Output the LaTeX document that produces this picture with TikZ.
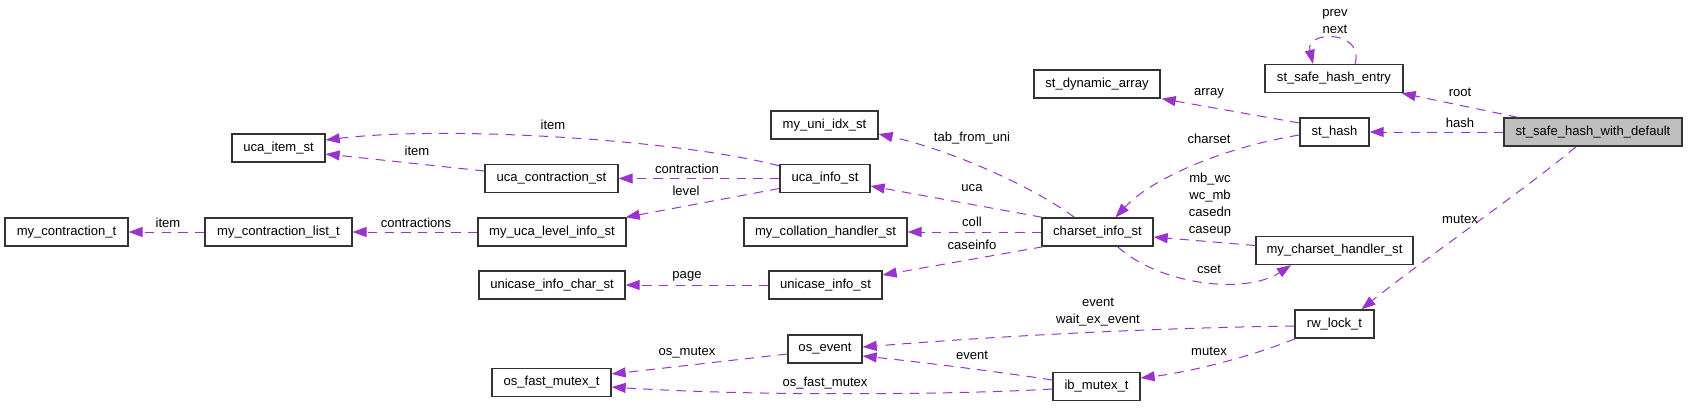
\documentclass[tikz,border=0pt]{standalone}
\usepackage{fontspec}
\setmainfont{Liberation Sans}
\usetikzlibrary{arrows.meta,calc}
\definecolor{edgec}{HTML}{9A32CD}
\definecolor{rootfill}{HTML}{BFBFBF}
\tikzset{
  cls/.style={draw=black!80, line width=1pt, rectangle, inner sep=0pt,
    minimum height=21pt, font=\fontsize{9.8pt}{12pt}\selectfont},
  uses/.style={draw=edgec, line width=0.75pt, dash pattern=on 7pt off 5.5pt,
    -{Triangle[length=10.5pt,width=7.5pt]}},
  lbl/.style={font=\fontsize{9.8pt}{12.75pt}\selectfont, align=center, inner sep=0pt},
}
\begin{document}
\begin{tikzpicture}[x=0.75pt,y=-0.75pt]
\fill[white] (0,0) rectangle (1688,407);
\useasboundingbox (0,0) rectangle (1688,407);
% classes
\node[cls, minimum width=92.25pt]  (mct)   at (66.5,232)   {my\_contraction\_t};
\node[cls, minimum width=110.25pt] (mclt)  at (278.5,232)  {my\_contraction\_list\_t};
\node[cls, minimum width=69.75pt]  (uis)   at (278.5,148)  {uca\_item\_st};
\node[cls, minimum width=99.75pt]  (ucs)   at (551.5,178.5){uca\_contraction\_st};
\node[cls, minimum width=111pt]    (mulis) at (552,232)    {my\_uca\_level\_info\_st};
\node[cls, minimum width=109.5pt]  (uics)  at (552,285)    {unicase\_info\_char\_st};
\node[cls, minimum width=89.25pt]  (ofmt)  at (551.5,382.5){os\_fast\_mutex\_t};
\node[cls, minimum width=80.25pt]  (muis)  at (824.5,125)  {my\_uni\_idx\_st};
\node[cls, minimum width=67.5pt]   (uinfo) at (825,178.5)  {uca\_info\_st};
\node[cls, minimum width=122.25pt] (mchs)  at (825.5,232)  {my\_collation\_handler\_st};
\node[cls, minimum width=84.75pt]  (unis)  at (825.5,285)  {unicase\_info\_st};
\node[cls, minimum width=55.5pt]   (ose)   at (825,349)    {os\_event};
\node[cls, minimum width=94.5pt]   (sda)   at (1097,84)    {st\_dynamic\_array};
\node[cls, minimum width=83.25pt]  (cis)   at (1097.5,232) {charset\_info\_st};
\node[cls, minimum width=65.25pt]  (ibm)   at (1096.5,386.5){ib\_mutex\_t};
\node[cls, minimum width=103.5pt]  (sshe)  at (1334,78.5)  {st\_safe\_hash\_entry};
\node[cls, minimum width=51.75pt]  (sth)   at (1334.5,132) {st\_hash};
\node[cls, minimum width=117.75pt] (mcsh)  at (1334.5,250.5){my\_charset\_handler\_st};
\node[cls, minimum width=59.25pt]  (rwl)   at (1334.5,324) {rw\_lock\_t};
\node[cls, minimum width=133.5pt, fill=rootfill] (root) at (1593,132) {st\_safe\_hash\_with\_default};
% edges
\draw[uses] ($(root.north)+(-75,0)$) -- ($(sshe.south east)+(-2,0)$);
\draw[uses] (root.west) -- (sth.east);
\draw[uses] ($(root.south)+(-17,0)$) .. controls (1530,186) and (1420,262) .. ($(rwl.north)+(27,0)$);
\draw[uses] ($(sshe.north)+(21,0)$) .. controls (1365,30) and (1305,30) .. ($(sshe.north)+(-21,0)$);
\draw[uses] ($(sth.west)+(0,-9)$) -- ($(sda.south east)+(1,0)$);
\draw[uses] ($(sth.west)+(0,3)$) .. controls (1220,148) and (1150,180) .. ($(cis.north)+(18,0)$);
\draw[uses] ($(mcsh.west)+(0,-5)$) -- ($(cis.east)+(0,5)$);
\draw[uses] ($(cis.south)+(20,0)$) .. controls (1160,285) and (1245,295) .. ($(mcsh.south)+(-43.5,0)$);
\draw[uses] ($(cis.north)+(-23,0)$) .. controls (1030,185) and (950,150) .. ($(muis.east)+(0,9)$);
\draw[uses] ($(cis.north west)+(1,0)$) -- ($(uinfo.east)+(0,7.5)$);
\draw[uses] (cis.west) -- (mchs.east);
\draw[uses] ($(cis.south west)+(2,0)$) -- ($(unis.east)+(0,-10)$);
\draw[uses] ($(uinfo.north west)+(0,2)$) .. controls (680,140) and (450,125) .. ($(uis.east)+(0,-8)$);
\draw[uses] ($(ucs.west)+(0,-7.5)$) -- ($(uis.east)+(0,6)$);
\draw[uses] (uinfo.west) -- (ucs.east);
\draw[uses] ($(uinfo.west)+(0,10)$) -- ($(mulis.north east)+(-1,0)$);
\draw[uses] (mulis.west) -- (mclt.east);
\draw[uses] (mclt.west) -- (mct.east);
\draw[uses] (unis.west) -- (uics.east);
\draw[uses] ($(rwl.west)+(0,2)$) .. controls (1150,328) and (1000,336) .. ($(ose.east)+(0,-2)$);
\draw[uses] ($(rwl.south west)+(1,0)$) .. controls (1250,357) and (1190,372) .. ($(ibm.east)+(0,-8.5)$);
\draw[uses] ($(ibm.west)+(0,-6.5)$) .. controls (1000,372) and (920,362) .. ($(ose.east)+(0,7)$);
\draw[uses] ($(ose.west)+(0,5)$) -- ($(ofmt.east)+(0,-8.5)$);
\draw[uses] ($(ibm.west)+(0,2.5)$) .. controls (950,395) and (750,396) .. ($(ofmt.east)+(0,4.5)$);
% labels
\node[lbl] (lroot)  at (1460,92)  {root};
\node[lbl] (lhash)  at (1460,123) {hash};
\node[lbl] (lmutex) at (1460,219) {mutex};
\node[lbl] (lprev)  at (1335,22)  {prev\\next};
\node[lbl] (larray) at (1209,93)  {array};
\node[lbl] (lcharset) at (1209,139) {charset};
\node[lbl] (lfuncs) at (1210,204.5) {mb\_wc\\wc\_mb\\casedn\\caseup};
\node[lbl] (lcset)  at (1209,269) {cset};
\node[lbl] (ltab)   at (972,138)  {tab\_from\_uni};
\node[lbl] (luca)   at (972,188)  {uca};
\node[lbl] (lcoll)  at (972,222)  {coll};
\node[lbl] (lcase)  at (972,245)  {caseinfo};
\node[lbl] (litem1) at (553,125)  {item};
\node[lbl] (litem2) at (417,151)  {item};
\node[lbl] (lcontr) at (687,169)  {contraction};
\node[lbl] (llevel) at (686,191)  {level};
\node[lbl] (lcontrs) at (416,223) {contractions};
\node[lbl] (litem3) at (168,223)  {item};
\node[lbl] (lpage)  at (687,276)  {page};
\node[lbl] (levent) at (1098,312.5) {event\\wait\_ex\_event};
\node[lbl] (lmutex2) at (1209,351) {mutex};
\node[lbl] (levent2) at (972,355) {event};
\node[lbl] (losm)   at (687,353)  {os\_mutex};
\node[lbl] (lofm)   at (825,383)  {os\_fast\_mutex};
\end{tikzpicture}
\end{document}
